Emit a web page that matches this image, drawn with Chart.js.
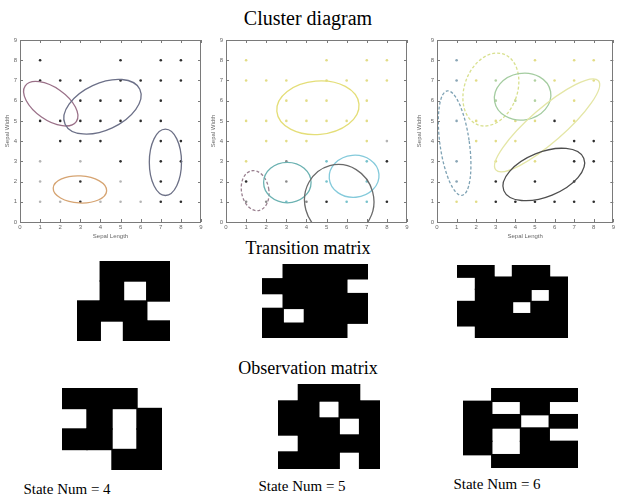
<!DOCTYPE html>
<html>
<head>
<meta charset="utf-8">
<script src="https://cdn.jsdelivr.net/npm/chart.js@4.4.1/dist/chart.umd.min.js"></script>
<style>
  html, body { margin: 0; padding: 0; background: #fff; }
  #page { position: relative; width: 617px; height: 503px; overflow: hidden; background: #fff; }
  .box { position: absolute; }
  .box canvas { display: block; }
  .cap { position: absolute; font-family: "Liberation Serif", "Times New Roman", serif; color: #000; white-space: nowrap; line-height: 1; transform: translateX(-50%); }
  .soft { filter: blur(0.35px); }
</style>
</head>
<body>
<div id="page">
  <div class="cap" style="left:308px; top:8px; font-size:20px;">Cluster diagram</div>
  <div class="cap" style="left:308px; top:239px; font-size:18px;">Transition matrix</div>
  <div class="cap" style="left:308px; top:359px; font-size:18px;">Observation matrix</div>
  <div class="cap" style="left:67px; top:482px; font-size:15px;">State Num = 4</div>
  <div class="cap" style="left:302px; top:479px; font-size:15px;">State Num = 5</div>
  <div class="cap" style="left:497px; top:477px; font-size:15px;">State Num = 6</div>

  <div class="box soft" style="left:0px; top:28px;"><canvas id="sc1" width="205" height="212"></canvas></div>
  <div class="box soft" style="left:206px; top:28px;"><canvas id="sc2" width="205" height="212"></canvas></div>
  <div class="box soft" style="left:412px; top:28px;"><canvas id="sc3" width="205" height="212"></canvas></div>

  <div class="box" style="left:77px; top:261px;"><canvas id="t4" width="93" height="80"></canvas></div>
  <div class="box" style="left:262px; top:264px;"><canvas id="t5" width="106" height="74"></canvas></div>
  <div class="box" style="left:457px; top:265px;"><canvas id="t6" width="111" height="73"></canvas></div>

  <div class="box" style="left:62px; top:388px;"><canvas id="o4" width="100" height="82"></canvas></div>
  <div class="box" style="left:278px; top:384px;"><canvas id="o5" width="102" height="85"></canvas></div>
  <div class="box" style="left:463px; top:388px;"><canvas id="o6" width="115" height="80"></canvas></div>
</div>

<script>
// ---- Iris-style grid samples (Sepal Length, Sepal Width) ----
const sepalLength = [1,5,7,8, 1,2,3,5,6,7,8, 3,4,5,7, 1,2,3,4,5,6,7, 2,3,4,7,8, 1,3,5,7,8, 1,3,5,7, 1,2,3,4,5,6,7,8];
const sepalWidth  = [8,8,8,8, 7,7,7,7,7,7,7, 6,6,6,6, 5,5,5,5,5,5,5, 4,4,4,4,4, 3,3,3,3,3, 2,2,2,2, 1,1,1,1,1,1,1,1];

// cluster membership code of every sample, one letter per sample, for 4 / 5 / 6 states
const members4 = "kkkk" + "kkkkkkk" + "kkkk" + "kkkkkkk" + "kkkkk" + "llkkk" + "lklk" + "llklllkk";
const members5 = "yyyy" + "yyyyyyy" + "yyyy" + "yyyyyyy" + "yyyyl" + "ymcck" + "kmcc" + "mmcmkcck";
const members6 = "byyy" + "byggyyy" + "gggy" + "byyyyky" + "yyykk" + "byykk" + "bkkk" + "yykkkkkk";

// Gaussian cluster outlines: centre, semi-axes (data units), rotation (degrees)
const ell4cx = [1.53, 4.10, 7.23, 2.98];
const ell4cy = [5.85, 5.70, 2.95, 1.61];
const ell4rx = [1.55, 2.05, 0.80, 1.33];
const ell4ry = [0.80, 1.15, 1.64, 0.67];
const ell4rot = [-35, 25, 0, -3];

const ell5cx = [4.57, 1.45, 3.05, 6.37, 5.63];
const ell5cy = [5.65, 1.55, 1.95, 2.26, 1.05];
const ell5rx = [2.05, 0.68, 1.18, 1.24, 1.72];
const ell5ry = [1.32, 1.00, 1.00, 1.04, 1.80];
const ell5rot = [5, 10, 0, 5, 15];

const ell6cx = [0.90, 2.75, 4.37, 5.62, 5.45];
const ell6cy = [3.90, 6.55, 6.20, 4.78, 2.35];
const ell6rx = [0.75, 1.35, 1.45, 3.47, 2.20];
const ell6ry = [2.61, 1.86, 1.15, 0.85, 1.10];
const ell6rot = [8, -20, 10, 41, 22];

// ---- Learned HMM matrices (1 = dark cell) ----
const trans4 = [[0,1,1,1],[0,1,0,1],[1,1,1,0],[1,0,1,1]];
const trans5 = [[0,1,1,1,1],[1,1,1,1,0],[0,1,1,1,1],[1,0,1,1,1],[1,1,1,1,0]];
const trans6 = [[1,1,0,1,1,0],[0,1,1,1,1,1],[0,1,1,1,0,1],[1,1,1,0,1,1],[1,1,1,1,1,1],[0,1,1,1,1,1]];
const obs4 = [[1,1,1,0],[0,1,0,1],[1,1,0,1],[0,0,1,1]];
const obs5 = [[0,1,1,1,0],[1,1,0,1,1],[1,1,1,0,1],[0,1,1,1,1],[1,1,1,0,1]];
const obs6 = [[0,1,1,1],[1,0,1,0],[1,1,0,1],[1,0,1,0],[1,0,1,1],[0,1,1,1]];

const axisTicks = [0,1,2,3,4,5,6,7,8,9];

// ---- styles ----
const memberColour = { k:'#2e2e2e', l:'#b4b4b4', m:'#8a8a8a', y:'#e2dc86', c:'#78c2cc', g:'#b2d2a2', b:'#8aa6b6' };
const ell4Style = [{c:'#9a7088', d:false}, {c:'#6c7088', d:false}, {c:'#6c7086', d:false}, {c:'#d6a472', d:false}];
const ell5Style = [{c:'#e4de78', d:false}, {c:'#9a8090', d:true}, {c:'#6cb2b2', d:false}, {c:'#84cadb', d:false}, {c:'#6a6a6a', d:false}];
const ell6Style = [{c:'#7ea2b4', d:true}, {c:'#d8e08e', d:true}, {c:'#a4cca0', d:false}, {c:'#e4e6a6', d:false}, {c:'#4e4e4e', d:false}];

// outlines drawn in data space through the chart's own scales
const ellipsePlugin = {
  id: 'clusterOutlines',
  afterDatasetsDraw(chart, args, opts) {
    const { ctx, chartArea: a, scales: { x, y } } = chart;
    ctx.save();
    ctx.beginPath();
    ctx.rect(a.left, a.top, a.right - a.left, a.bottom - a.top);
    ctx.clip();
    (opts.items || []).forEach(e => {
      const px = x.getPixelForValue(e.cx), py = y.getPixelForValue(e.cy);
      const rxp = Math.abs(x.getPixelForValue(e.cx + e.rx) - px);
      const ryp = Math.abs(y.getPixelForValue(e.cy + e.ry) - py);
      ctx.beginPath();
      ctx.ellipse(px, py, rxp, ryp, -e.rot * Math.PI / 180, 0, Math.PI * 2);
      ctx.strokeStyle = e.color;
      ctx.lineWidth = 1.3;
      ctx.setLineDash(e.dash ? [3, 2] : []);
      ctx.stroke();
    });
    ctx.restore();
  }
};

// box frame with inward tick marks on all four sides
const framePlugin = {
  id: 'boxFrame',
  afterDraw(chart) {
    if (!chart.options.plugins.boxFrame || !chart.options.plugins.boxFrame.on) return;
    const { ctx, chartArea: a, scales: { x, y } } = chart;
    ctx.save();
    ctx.strokeStyle = '#7a7a7a';
    ctx.lineWidth = 1;
    ctx.strokeRect(Math.round(a.left) + 0.5, Math.round(a.top) + 0.5, Math.round(a.right - a.left) - 1, Math.round(a.bottom - a.top));
    ctx.beginPath();
    axisTicks.forEach(v => {
      const px = Math.round(x.getPixelForValue(v)) + 0.5;
      ctx.moveTo(px, a.bottom); ctx.lineTo(px, a.bottom - 3);
      ctx.moveTo(px, a.top); ctx.lineTo(px, a.top + 3);
      const py = Math.round(y.getPixelForValue(v)) + 0.5;
      ctx.moveTo(a.left, py); ctx.lineTo(a.left + 3, py);
      ctx.moveTo(a.right, py); ctx.lineTo(a.right - 3, py);
    });
    ctx.stroke();
    ctx.restore();
  }
};

function ellipseItems(cx, cy, rx, ry, rot, style) {
  return cx.map((v, i) => ({ cx: v, cy: cy[i], rx: rx[i], ry: ry[i], rot: rot[i], color: style[i].c, dash: style[i].d }));
}

function scatterPanel(id, members, items, yWidth, padLeft, padRight, showXTitle) {
  const pts = sepalLength.map((v, i) => ({ x: v, y: sepalWidth[i] }));
  const cols = members.split('').map(m => memberColour[m]);
  const small = { family: 'Liberation Sans, Arial, sans-serif', size: 6 };
  new Chart(document.getElementById(id), {
    type: 'scatter',
    data: { datasets: [{ data: pts, pointRadius: 1.3, pointHoverRadius: 1.3, pointBackgroundColor: cols, pointBorderColor: cols, pointBorderWidth: 0 }] },
    options: {
      responsive: false, animation: false, events: [],
      layout: { padding: { top: 12, left: padLeft, right: padRight, bottom: 0 } },
      plugins: { legend: { display: false }, tooltip: { enabled: false }, clusterOutlines: { items }, boxFrame: { on: true } },
      scales: {
        x: {
          min: 0, max: 9,
          grid: { display: false, drawTicks: false },
          border: { display: false },
          ticks: { stepSize: 1, font: small, color: '#666', padding: 2, maxRotation: 0 },
          title: { display: showXTitle, text: 'Sepal Length', font: small, color: '#666', padding: { top: 0, bottom: 0 } },
          afterFit(s) { s.height = 18; }
        },
        y: {
          min: 0, max: 9,
          grid: { display: false, drawTicks: false },
          border: { display: false },
          ticks: { stepSize: 1, font: small, color: '#666', padding: 3 },
          title: { display: true, text: 'Sepal Width', font: small, color: '#666', padding: { top: 0, bottom: 0 } },
          afterFit(s) { s.width = yWidth; }
        }
      }
    },
    plugins: [ellipsePlugin, framePlugin]
  });
}

scatterPanel('sc1', members4, ellipseItems(ell4cx, ell4cy, ell4rx, ell4ry, ell4rot, ell4Style), 16, 4, 4, true);
scatterPanel('sc2', members5, ellipseItems(ell5cx, ell5cy, ell5rx, ell5ry, ell5rot, ell5Style), 16, 4, 4, false);
scatterPanel('sc3', members6, ellipseItems(ell6cx, ell6cy, ell6rx, ell6ry, ell6rot, ell6Style), 21, 4, 1, true);

// binary matrix drawn as a stacked horizontal bar grid, one dataset per column
function matrixPanel(id, M) {
  const rows = M.map((r, i) => 'row' + (i + 1));
  const nCols = M[0].length;
  const datasets = [];
  for (let j = 0; j < nCols; j++) {
    datasets.push({
      data: M.map(() => 1),
      backgroundColor: M.map(r => r[j] ? '#000000' : 'rgba(255,255,255,0)'),
      borderWidth: 0,
      inflateAmount: 0.7,
      barPercentage: 1,
      categoryPercentage: 1
    });
  }
  new Chart(document.getElementById(id), {
    type: 'bar',
    data: { labels: rows, datasets },
    options: {
      indexAxis: 'y', responsive: false, animation: false, events: [],
      layout: { padding: 0 },
      plugins: { legend: { display: false }, tooltip: { enabled: false } },
      scales: {
        x: { display: false, stacked: true, min: 0, max: nCols },
        y: { display: false, stacked: true }
      }
    }
  });
}

matrixPanel('t4', trans4);
matrixPanel('t5', trans5);
matrixPanel('t6', trans6);
matrixPanel('o4', obs4);
matrixPanel('o5', obs5);
matrixPanel('o6', obs6);
</script>
</body>
</html>
